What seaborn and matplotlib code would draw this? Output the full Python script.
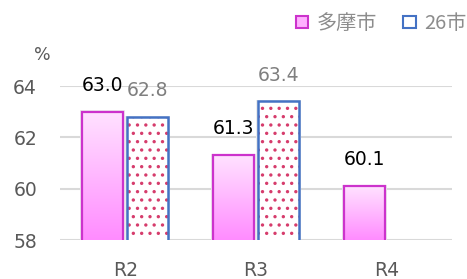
import numpy as np
import pandas as pd
import matplotlib
matplotlib.use("Agg")
import matplotlib.pyplot as plt
import seaborn as sns
from matplotlib.patches import Rectangle, Patch
from matplotlib.colors import LinearSegmentedColormap

# ---- data ----
years = ["R2", "R3", "R4"]
tama = [63.0, 61.3, 60.1]
city26 = [62.8, 63.4, np.nan]
series_names = ["多摩市", "26市"]
yticks = [58, 60, 62, 64]

df = pd.DataFrame({
    "year": years * 2,
    "series": [series_names[0]] * 3 + [series_names[1]] * 3,
    "value": tama + city26,
})

sns.set_theme(style="white")
plt.rcParams["font.family"] = ["DejaVu Sans", "Noto Sans CJK JP"]
plt.rcParams["hatch.linewidth"] = 1.2

fig = plt.figure(figsize=(4.67, 2.79), dpi=100)
ax = fig.add_axes([60 / 467, 1 - 240 / 279, 392 / 467, 154 / 279])

sns.barplot(data=df, x="year", y="value", hue="series", order=years,
            hue_order=series_names, palette=["#ff99ff", "#ffffff"],
            width=0.69, gap=0.09, legend=False, ax=ax, zorder=3)

ax.set_ylim(58, 64)
ax.set_xlim(-0.5, 2.5)

grad_cmap = LinearSegmentedColormap.from_list("g", ["#ff8cff", "#ffe2ff"])
grad = np.linspace(0, 1, 256).reshape(-1, 1)

tama_bars = ax.containers[0]
city_bars = ax.containers[1]

for p in tama_bars:
    if np.isnan(p.get_height()):
        continue
    x0 = p.get_x(); w = p.get_width(); top = p.get_y() + p.get_height()
    ax.add_patch(Rectangle((x0 - 0.015, 58), w + 0.03, top - 58 + 0.05,
                           facecolor="#ececec", edgecolor="none", zorder=2))
    p.set_facecolor("none")
    p.set_edgecolor("#cc33cc")
    p.set_linewidth(1.6)
    p.set_zorder(4)
    im = ax.imshow(grad, cmap=grad_cmap, aspect="auto", origin="lower",
                   extent=[x0, x0 + w, 58, top], zorder=3)
    im.set_clip_path(p)

for p in city_bars:
    if np.isnan(p.get_height()):
        continue
    x0 = p.get_x(); w = p.get_width(); top = p.get_y() + p.get_height()
    ax.add_patch(Rectangle((x0 - 0.015, 58), w + 0.03, top - 58 + 0.05,
                           facecolor="#ececec", edgecolor="none", zorder=2))
    p.set_facecolor("white")
    p.set_edgecolor("#d63c6c")
    p.set_hatch("..")
    p.set_linewidth(0)
    ax.add_patch(Rectangle((x0, p.get_y()), w, p.get_height(), fill=False,
                           edgecolor="#4472c4", linewidth=1.8, zorder=5))

ax.set_xlim(-0.5, 2.5)
ax.set_ylim(58, 64)

# value labels
for cont, color in [(tama_bars, "#000000"), (city_bars, "#7f7f7f")]:
    for p in cont:
        h = p.get_height()
        if np.isnan(h):
            continue
        ax.annotate(f"{h:.1f}", (p.get_x() + p.get_width() / 2, h),
                    xytext=(0, 19), textcoords="offset points",
                    ha="center", va="center", fontsize=13.5, color=color,
                    annotation_clip=False, zorder=6)

ax.set_yticks(yticks)
ax.yaxis.grid(True, color="#d9d9d9", linewidth=1.5, zorder=0)
ax.set_axisbelow(True)
for s in ax.spines.values():
    s.set_visible(False)
ax.tick_params(axis="both", length=0, labelsize=13.5, labelcolor="#595959")
ax.tick_params(axis="y", pad=16.5)
ax.tick_params(axis="x", pad=15)
ax.set_xlabel("")
ax.set_ylabel("")
ax.text(-0.046, 1.2, "%", transform=ax.transAxes, ha="center", va="center",
        fontsize=12.5, color="#595959")

handles = [Patch(facecolor="#ffb0ff", edgecolor="#cc33cc", linewidth=1.5),
           Patch(facecolor="white", edgecolor="#4472c4", linewidth=1.5)]
leg = fig.legend(handles, series_names, loc="upper right",
                 bbox_to_anchor=(1.0, 1 - 13 / 279), ncol=2, frameon=False,
                 handlelength=0.6, handleheight=0.6,
                 handletextpad=0.45, columnspacing=1.3,
                 borderaxespad=0, borderpad=0,
                 prop={"family": ["Noto Sans CJK JP", "DejaVu Sans"], "size": 14.5})
for t in leg.get_texts():
    t.set_color("#8c8c8c")

fig.savefig("out.png", dpi=100)
